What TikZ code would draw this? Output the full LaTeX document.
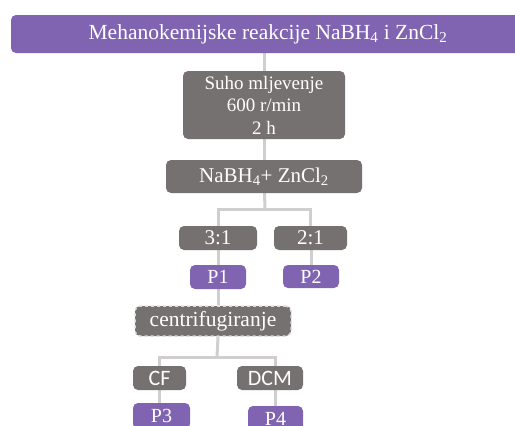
\documentclass[tikz,border=0pt]{standalone}
\usepackage{fontspec}
\setmainfont{Liberation Serif}
\newfontfamily\boxsans{Carlito}
\usetikzlibrary{positioning, backgrounds}
\definecolor{flowpurple}{RGB}{128, 100, 178}
\definecolor{flowgray}{RGB}{118, 113, 113}
\definecolor{flowline}{RGB}{208, 206, 206}

\begin{document}
\begin{tikzpicture}[
  x=1pt, y=-1pt,
  box/.style={rectangle, rounded corners=5pt, text=white, inner sep=1pt,
              align=center, font=\fontsize{20}{22}\selectfont},
  graybox/.style={box, fill=flowgray},
  purplebox/.style={box, fill=flowpurple},
  sansbox/.style={graybox, font=\boxsans\fontsize{22}{24}\selectfont},
  link/.style={draw=flowline, line width=3pt}
]
\clip (0,0) rectangle (515,426);

% title bar
\node[purplebox, minimum width=514pt, minimum height=38pt,
      font=\fontsize{21.5}{24}\selectfont] (title) at (268,34)
  {Mehanokemijske reakcije NaBH\textsubscript{4} i ZnCl\textsubscript{2}};

% milling and mixture
\node[graybox, minimum width=162pt, minimum height=68pt,
      font=\fontsize{19}{22.5}\selectfont] (mill) at (264,105)
  {Suho mljevenje\\600 r/min\\2 h};
\node[graybox, minimum width=196pt, minimum height=33pt,
      font=\fontsize{21}{24}\selectfont] (mix) at (264,176.5)
  {NaBH\textsubscript{4}+ ZnCl\textsubscript{2}};

% ratios
\node[graybox, minimum width=78pt, minimum height=24pt,
      font=\fontsize{21}{24}\selectfont] (r31) at (218,238) {3:1};
\node[graybox, minimum width=73pt, minimum height=24pt,
      font=\fontsize{21}{24}\selectfont] (r21) at (310.5,238) {2:1};
\node[purplebox, minimum width=56pt, minimum height=24pt] (p1) at (218,277) {P1};
\node[purplebox, minimum width=56pt, minimum height=23pt] (p2) at (311,276.5) {P2};

% centrifugation
\node[graybox, minimum width=156pt, minimum height=30pt,
      font=\fontsize{21.5}{24}\selectfont,
      draw=white!75!flowgray, dashed, line width=1.5pt] (centr) at (213,321)
  {centrifugiranje};
\node[sansbox, minimum width=53pt, minimum height=24pt] (cf) at (159.5,378) {CF};
\node[sansbox, minimum width=66pt, minimum height=24pt] (dcm) at (270,378) {DCM};
\node[purplebox, minimum width=57pt, minimum height=26pt] (p3) at (161.5,416) {P3};
\node[purplebox, minimum width=55pt, minimum height=26pt] (p4) at (275.5,419) {P4};

% connectors
\coordinate (fork1) at (265,209);
\coordinate (fork2) at (217,357);
\begin{scope}[on background layer]
  \draw[link] (title.south -| mill.north) -- (mill.north);
  \draw[link] (mill) -- (mix);
  \draw[link] (mix) -- (fork1);
  \draw[link] (fork1) -| (r31);
  \draw[link] (fork1) -| (r21);
  \draw[link] (r31) -- (p1);
  \draw[link] (r21.south -| p2.north) -- (p2);
  \draw[link] (p1.south) -- (p1.south |- centr.north);
  \draw[link] (p1.south |- centr.south) -- (fork2);
  \draw[link] (fork2) -| (cf);
  \draw[link] (fork2) -| (dcm.north -| p4.north);
  \draw[link] (cf) -- (cf.south |- p3.north);
  \draw[link] (dcm.south -| p4.north) -- (p4);
\end{scope}
\end{tikzpicture}
\end{document}
